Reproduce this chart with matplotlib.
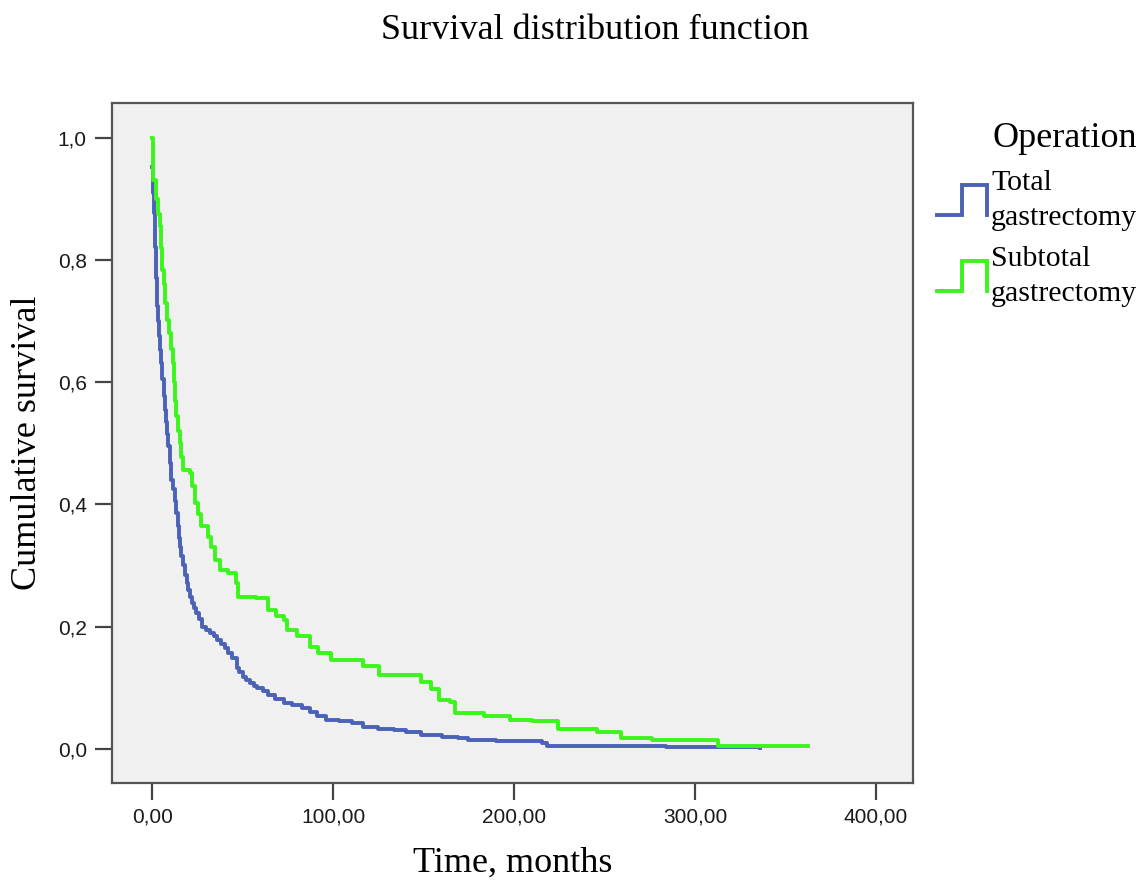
import matplotlib
matplotlib.use('Agg')
import matplotlib.pyplot as plt
from matplotlib.legend_handler import HandlerBase
from matplotlib.lines import Line2D

# Kaplan-Meier curves (time in months, survival)
total_t = [0, 0.4, 0.8, 1.3, 1.9, 2.6, 3.2, 3.8, 4.4, 5.0, 5.6, 6.3, 6.9, 7.5,
           8.1, 8.7, 9.6, 10.6, 11.4, 12.3, 13.3, 14.0, 14.8, 15.5, 16.1, 17.0,
           18.0, 18.9, 19.8, 21.0, 22.2, 23.3, 24.4, 25.8, 27.6, 29.9, 32, 34,
           36, 38, 40, 42, 44, 46.6, 48, 50, 52, 53.9, 56, 58, 61, 64, 68,
           72.8, 77, 82.9, 87, 91, 96, 103, 110.6, 116.3, 125, 133.9, 140,
           148.4, 160, 168.8, 174.6, 190, 215.3, 218.3, 283.8, 336]
total_s = [0.953, 0.91, 0.877, 0.822, 0.77, 0.724, 0.70, 0.675, 0.652, 0.631,
           0.605, 0.577, 0.555, 0.535, 0.515, 0.495, 0.468, 0.44, 0.425, 0.405,
           0.386, 0.365, 0.345, 0.33, 0.315, 0.3, 0.285, 0.272, 0.26, 0.248,
           0.238, 0.23, 0.222, 0.212, 0.2, 0.195, 0.19, 0.185, 0.178, 0.172,
           0.165, 0.157, 0.148, 0.132, 0.125, 0.118, 0.112, 0.107, 0.103, 0.1,
           0.094, 0.088, 0.081, 0.075, 0.071, 0.067, 0.06, 0.053, 0.047, 0.045,
           0.042, 0.035, 0.033, 0.031, 0.027, 0.023, 0.02, 0.0175, 0.0136,
           0.012, 0.010, 0.004, 0.003, 0.002]

subtotal_t = [0, 0.4, 1.8, 3.0, 4.1, 4.8, 5.6, 6.4, 7.2, 8.1, 9.2, 10.3, 11.4,
              12.0, 12.7, 13.3, 14.3, 15.2, 16.1, 17, 20.7, 22, 23.4, 25.2,
              27.1, 30.8, 32.5, 34.5, 37.3, 41.9, 46.5, 47.4, 57.6, 64, 68.6,
              72.8, 74.2, 80, 87.3, 91.7, 99, 110.6, 116.3, 125.1, 142.6, 148.4,
              154.3, 158.6, 164.5, 167.4, 183.4, 197.9, 210, 224.1, 246, 259,
              276.5, 312.9, 362.3]
subtotal_s = [1.0, 0.931, 0.9, 0.875, 0.855, 0.82, 0.784, 0.76, 0.73, 0.702,
              0.68, 0.655, 0.631, 0.6, 0.57, 0.544, 0.52, 0.5, 0.478, 0.457,
              0.451, 0.43, 0.402, 0.385, 0.364, 0.347, 0.33, 0.309, 0.293,
              0.288, 0.271, 0.249, 0.247, 0.227, 0.217, 0.211, 0.195, 0.184,
              0.167, 0.157, 0.146, 0.1446, 0.135, 0.121, 0.120, 0.110, 0.097,
              0.080, 0.077, 0.058, 0.053, 0.047, 0.045, 0.032, 0.027, 0.0175,
              0.0136, 0.004, 0.004]

labels = ['Total\ngastrectomy', 'Subtotal\ngastrectomy']
colors = ['#4b62b6', '#3cf51c']

xticks = [0, 100, 200, 300, 400]
yticks = [0.0, 0.2, 0.4, 0.6, 0.8, 1.0]

serif = ['Liberation Serif', 'DejaVu Serif']
sans = ['Liberation Sans', 'DejaVu Sans']


class StepHandler(HandlerBase):
    # legend handle drawn as a little step, like SPSS does
    def create_artists(self, legend, orig_handle, xdescent, ydescent,
                       width, height, fontsize, trans):
        x0, y0 = -xdescent, -ydescent
        xs = [x0, x0 + width / 2, x0 + width / 2, x0 + width, x0 + width]
        ys = [y0, y0, y0 + height, y0 + height, y0]
        ln = Line2D(xs, ys, color=orig_handle.get_color(),
                    lw=orig_handle.get_linewidth(), solid_joinstyle='miter')
        ln.set_transform(trans)
        return [ln]


fig = plt.figure(figsize=(11.41, 8.84), dpi=100)
ax = fig.add_axes([0.098, 0.1143, 0.702, 0.7692])
ax.set_facecolor('#f0f0f0')

h1, = ax.step(total_t, total_s, where='post', color=colors[0], lw=2.8)
h2, = ax.step(subtotal_t, subtotal_s, where='post', color=colors[1], lw=2.8)

ax.set_xlim(-22.4, 420.5)
ax.set_ylim(-0.056, 1.057)
ax.set_xticks(xticks)
ax.set_xticklabels([f'{v:.2f}'.replace('.', ',') for v in xticks])
ax.set_yticks(yticks)
ax.set_yticklabels([f'{v:.1f}'.replace('.', ',') for v in yticks])
ax.tick_params(length=12, width=1.6, color='#444444', labelsize=15,
               labelcolor='#1a1a1a', pad=6)
for lab in ax.get_xticklabels() + ax.get_yticklabels():
    lab.set_family(sans)
for sp in ax.spines.values():
    sp.set_color('#555555')
    sp.set_linewidth(1.6)

ax.set_xlabel('Time, months', family=serif, fontsize=26, labelpad=14)
ax.set_ylabel('Cumulative survival', family=serif, fontsize=26, labelpad=10)
fig.text(0.5215, 0.966, 'Survival distribution function', family=serif,
         fontsize=26, ha='center', va='center')

leg = ax.legend([h1, h2], labels, handler_map={Line2D: StepHandler()},
                loc='upper left', bbox_to_anchor=(0.821, 0.862),
                bbox_transform=fig.transFigure, frameon=False,
                title='Operation', alignment='right',
                prop={'family': serif, 'size': 21.5},
                handlelength=1.67, handleheight=1.15, handletextpad=0.15,
                labelspacing=0.5, borderaxespad=0, borderpad=0)
leg.get_title().set_fontsize(26)
leg.get_title().set_family(serif)
for t in leg.get_texts():
    t.set_linespacing(1.45)

fig.savefig('out.png', dpi=100)
